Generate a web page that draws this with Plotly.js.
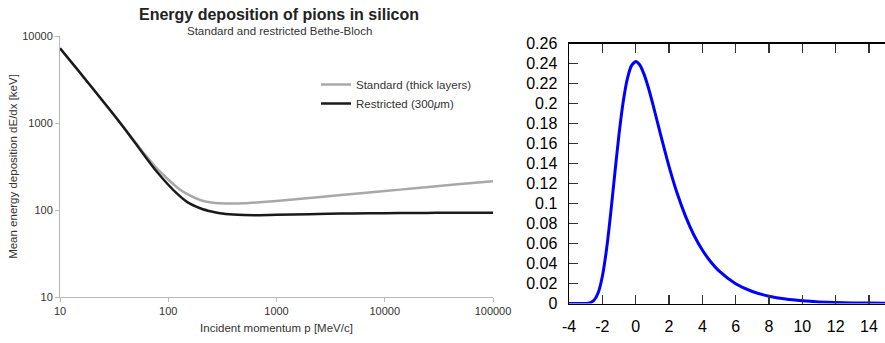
<!DOCTYPE html>
<html>
<head>
<meta charset="utf-8">
<script src="https://cdn.plot.ly/plotly-3.0.1.min.js"></script>
<style>
  html, body { margin: 0; padding: 0; background: #fff; }
  #chart { width: 885px; height: 343px; }
</style>
</head>
<body>
<div id="chart"></div>
<script>
// Energy loss of pions in silicon (mean dE/dx in keV vs momentum in MeV/c)
const momentum = [10, 15, 20, 30, 40, 50, 60, 70, 80, 100, 120, 150, 200, 250, 300, 400, 500, 700,
                  1000, 2000, 3000, 5000, 10000, 20000, 30000, 50000, 100000];
const dedxStandard = [7230, 3900, 2510, 1335, 850, 593, 445, 354, 294, 224, 183, 152, 129.4, 121.9, 119.3, 118.6, 119.4, 122.7,
                      127, 137.5, 144, 153, 165, 179, 187, 199, 214];
const dedxRestricted = [7230, 3900, 2510, 1335, 842, 580, 426, 330, 268, 195, 155, 123, 104, 96, 91.6, 88.5, 87.5, 87.3,
                        88, 89.5, 90.4, 91.3, 92, 92.5, 92.7, 92.9, 93];
const momentumTicks = [10, 100, 1000, 10000, 100000];
const momentumTickText = ['10', '100', '1000', '10000', '100000'];
const dedxTicks = [10, 100, 1000, 10000];
const dedxTickText = ['10', '100', '1000', '10000'];

// Energy-loss fluctuation curve (Landau-like shape)
const lambda = [-4, -3.5, -3, -2.75, -2.5, -2.25, -2, -1.75, -1.5, -1.25, -1, -0.75, -0.5, -0.25, 0,
                0.25, 0.5, 0.75, 1, 1.25, 1.5, 2, 2.5, 3, 3.5, 4, 4.5, 5, 6, 7, 8, 9, 10, 11, 12, 13, 14, 15];
const density = [0, 0, 0.0001, 0.0006, 0.0032, 0.0107, 0.027, 0.0539, 0.0899, 0.1301, 0.169, 0.2014, 0.2246, 0.2379, 0.242,
                 0.2385, 0.2294, 0.2165, 0.2013, 0.185, 0.1686, 0.1372, 0.1097, 0.0869, 0.0683, 0.0535, 0.0418, 0.0326,
                 0.0198, 0.012, 0.0073, 0.0044, 0.0027, 0.0016, 0.001, 0.0006, 0.0004, 0.0002];
const lambdaTicks = [-4, -2, 0, 2, 4, 6, 8, 10, 12, 14];
const lambdaTickText = ['-4', '-2', '0', '2', '4', '6', '8', '10', '12', '14'];
const densityTicks = [0, 0.02, 0.04, 0.06, 0.08, 0.1, 0.12, 0.14, 0.16, 0.18, 0.2, 0.22, 0.24, 0.26];
const densityTickText = ['0', '0.02', '0.04', '0.06', '0.08', '0.1', '0.12', '0.14', '0.16', '0.18', '0.2', '0.22', '0.24', '0.26'];

const W = 885, H = 343;
const fx = px => px / W;          // pixel column -> paper x
const fy = py => 1 - py / H;      // pixel row -> paper y
const sans = 'Liberation Sans, Arial, Helvetica, sans-serif';

const traces = [
  {
    x: momentum, y: dedxStandard, xaxis: 'x', yaxis: 'y',
    type: 'scatter', mode: 'lines', name: 'Standard (thick layers)',
    line: { color: '#a8a8a8', width: 2.5, shape: 'spline', smoothing: 0.8 }
  },
  {
    x: momentum, y: dedxRestricted, xaxis: 'x', yaxis: 'y',
    type: 'scatter', mode: 'lines', name: 'Restricted (300<i>μ</i>m)',
    line: { color: '#1a1a1a', width: 2.5, shape: 'spline', smoothing: 0.8 }
  },
  {
    x: lambda, y: density, xaxis: 'x2', yaxis: 'y2',
    type: 'scatter', mode: 'lines', showlegend: false,
    line: { color: '#0000ff', width: 3, shape: 'spline', smoothing: 0.6 }
  }
];

const leftAxis = {
  type: 'log', showgrid: false, zeroline: false,
  showline: true, linecolor: '#b8b8b8', linewidth: 1,
  ticks: 'outside', ticklen: 4, tickwidth: 1, tickcolor: '#b8b8b8',
  tickfont: { family: sans, size: 11, color: '#333' }
};
const rightAxis = {
  showgrid: false, zeroline: false,
  showline: true, linecolor: '#000', linewidth: 1.5,
  ticks: 'inside', ticklen: 9, tickwidth: 1.5, tickcolor: '#333',
  tickfont: { family: sans, size: 16, color: '#000' }
};

const layout = {
  width: W, height: H,
  margin: { l: 0, r: 0, t: 0, b: 0 },
  paper_bgcolor: '#fff', plot_bgcolor: 'rgba(0,0,0,0)',
  font: { family: sans, color: '#333' },
  showlegend: true,
  legend: {
    x: fx(316), y: fy(70), xanchor: 'left', yanchor: 'top',
    bgcolor: 'rgba(0,0,0,0)', borderwidth: 0,
    font: { family: sans, size: 11.5, color: '#333' }
  },
  xaxis: Object.assign({}, leftAxis, {
    domain: [fx(60), fx(493)], range: [1, 5], anchor: 'y',
    tickmode: 'array', tickvals: momentumTicks, ticktext: momentumTickText,
    title: { text: 'Incident momentum p [MeV/c]', font: { family: sans, size: 11.5, color: '#333' }, standoff: 7 }
  }),
  yaxis: Object.assign({}, leftAxis, {
    domain: [fy(297), fy(36)], range: [1, 4], anchor: 'x',
    tickmode: 'array', tickvals: dedxTicks, ticktext: dedxTickText,
    title: { text: 'Mean energy deposition dE/dx [keV]', font: { family: sans, size: 11.5, color: '#333' }, standoff: 2 }
  }),
  xaxis2: Object.assign({}, rightAxis, {
    domain: [fx(569), 1], range: [-4, 14.96], anchor: 'y2', mirror: 'ticks',
    tickmode: 'array', tickvals: lambdaTicks, ticktext: lambdaTickText,
    ticklabelstandoff: 8
  }),
  yaxis2: Object.assign({}, rightAxis, {
    domain: [fy(303.5), fy(43.5)], range: [0, 0.26], anchor: 'x2',
    tickmode: 'array', tickvals: densityTicks, ticktext: densityTickText,
    ticklabelstandoff: 7
  }),
  // tick marks along the right edge of the distribution panel
  yaxis3: Object.assign({}, rightAxis, {
    overlaying: 'y2', side: 'right', anchor: 'x2', showline: false,
    range: [0, 0.26], tickmode: 'array', tickvals: densityTicks, showticklabels: false
  }),
  annotations: [
    {
      xref: 'paper', yref: 'paper', x: fx(279), y: fy(14.5), xanchor: 'center', yanchor: 'middle',
      text: '<b>Energy deposition of pions in silicon</b>', showarrow: false,
      font: { family: sans, size: 16, color: '#222' }
    },
    {
      xref: 'paper', yref: 'paper', x: fx(279), y: fy(31.5), xanchor: 'center', yanchor: 'middle',
      text: 'Standard and restricted Bethe-Bloch', showarrow: false,
      font: { family: sans, size: 11.5, color: '#333' }
    }
  ]
};

Plotly.newPlot('chart', traces, layout, { staticPlot: true, displayModeBar: false });
</script>
</body>
</html>
